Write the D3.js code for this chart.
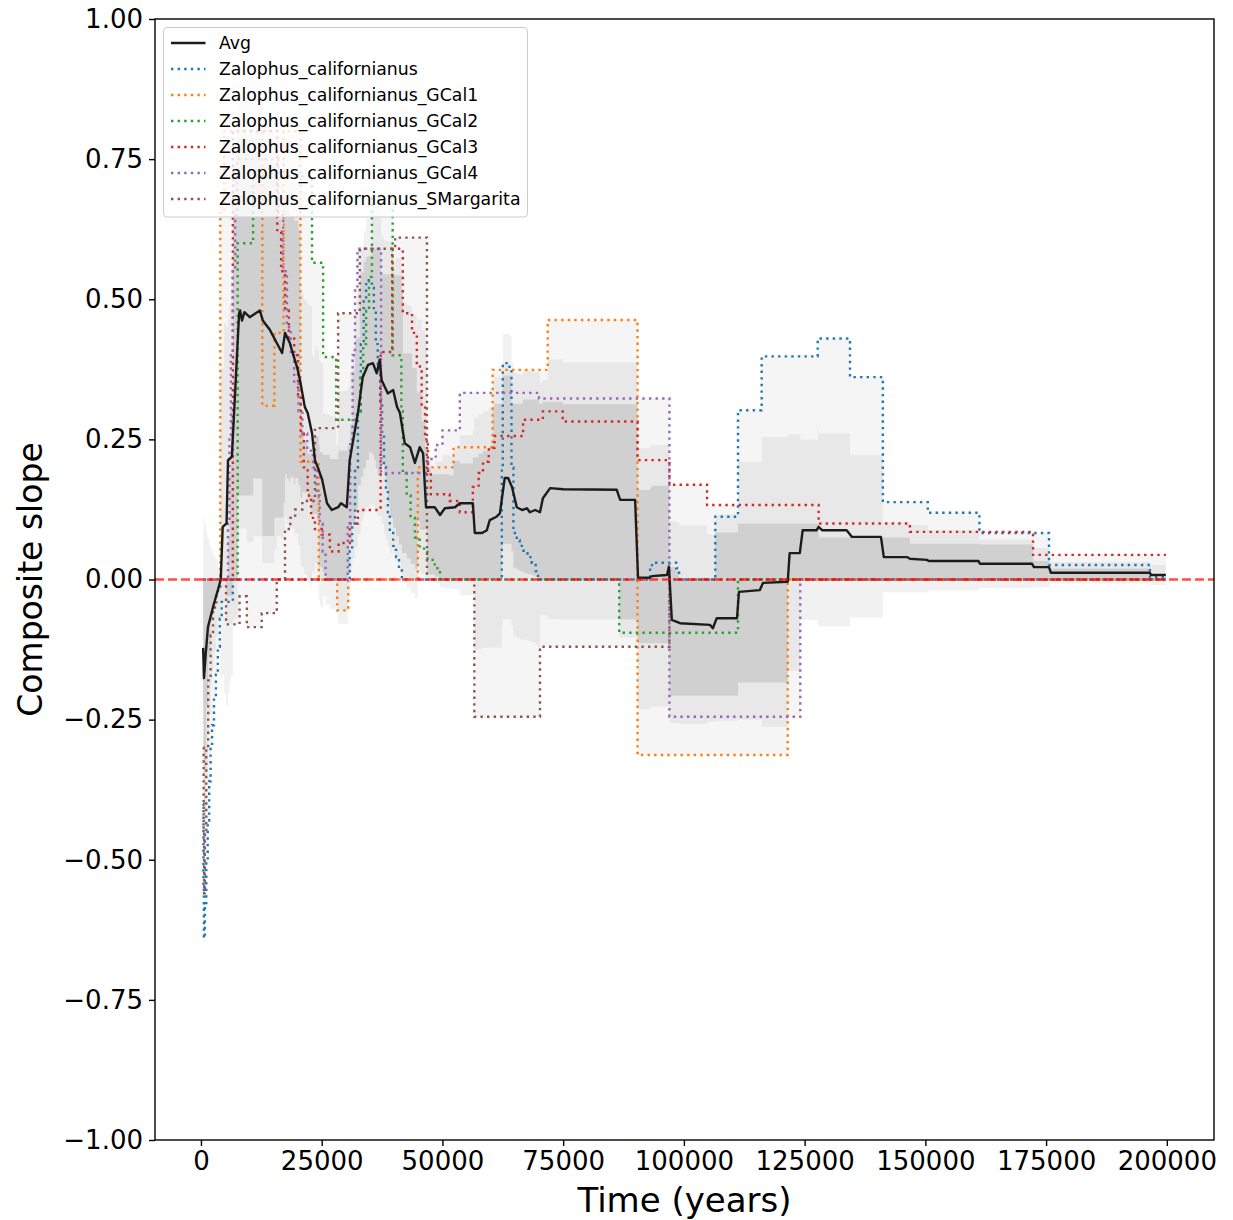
<!DOCTYPE html>
<html>
<head>
<meta charset="utf-8">
<script src="https://cdn.jsdelivr.net/npm/d3@7"></script>
<style>
  body { margin: 0; background: #fff; }
  svg { display: block; }
  text { font-family: "DejaVu Sans", sans-serif; fill: #000; }
</style>
</head>
<body>
<svg id="chart" width="1233" height="1220"></svg>
<script>
// ---- data: composite slope through time, one step series per population ----
const tStart = 450, tEnd = 199800;

const seriesNames = [
  "Zalophus_californianus",
  "Zalophus_californianus_GCal1",
  "Zalophus_californianus_GCal2",
  "Zalophus_californianus_GCal3",
  "Zalophus_californianus_GCal4",
  "Zalophus_californianus_SMargarita"
];
const seriesColors = ["#1f77b4", "#ff7f0e", "#2ca02c", "#d62728", "#9467bd", "#8c564b"];

// [time (years), slope], value holds until the next time
const californianus = [
  [450,-0.40],[520,-0.55],[600,-0.64],[800,-0.58],[1100,-0.50],[1400,-0.43],[1700,-0.36],[2000,-0.30],
  [2300,-0.26],[2700,-0.21],[3100,-0.17],[3500,-0.12],[3900,-0.07],[4300,-0.04],[6600,0],
  [30800,0.05],[31300,0.10],[31900,0.20],[32500,0.30],[33100,0.42],[33700,0.50],[34200,0.534],
  [35400,0.52],[35800,0.48],[36200,0.42],[36600,0.37],[37100,0.32],[37500,0.26],[37900,0.20],
  [38300,0.16],[38700,0.12],[39100,0.083],[39800,0.06],[40400,0.04],[41000,0.02],[41600,0],
  [62300,0.20],[62500,0.386],[63900,0.375],[64300,0.20],[64700,0.083],[65400,0.07],[66000,0.06],
  [66800,0.047],[67600,0.04],[68500,0.03],[69300,0.015],[69800,0],
  [93000,0.02],[93400,0.03],[98400,0.02],[99000,0],
  [106500,0.112],[111200,0.302],[116100,0.398],[127700,0.43],[134400,0.361],[141200,0.138],
  [150500,0.119],[161200,0.083],[175600,0.026],[196500,0.004]
];
const gcal1 = [
  [450,0],[4000,0.66],[4800,0.80],[12700,0.31],[15200,0.44],[17100,0.80],[20600,0.21],[24400,0],
  [28200,-0.055],[30500,0],[44900,0.20],[52300,0.236],[60400,0.374],[71800,0.463],[90400,-0.313],
  [121500,0]
];
const gcal2 = [
  [450,0],[7600,0.60],[10800,0.72],[23000,0.565],[25300,0.397],[28000,0.285],[32300,0.30],[33000,0.36],
  [33600,0.42],[34200,0.48],[34800,0.54],[35400,0.68],[39700,0.40],[41500,0.30],[41800,0.19],
  [42600,0.15],[43400,0.11],[44300,0.075],[45300,0.055],[46900,0.035],[48400,0.02],[49500,0],
  [86600,-0.095],[111200,0]
];
const gcal3 = [
  [450,0],[6600,0.80],[15800,0.62],[16600,0.55],[17400,0.48],[18200,0.43],[19300,0.40],[20100,0.33],
  [20700,0.26],[21300,0.20],[22100,0.15],[22800,0.11],[23600,0.09],[25000,0.08],[26700,0.05],
  [28500,0.065],[30800,0.10],[32500,0.124],[37200,0.406],[39600,0.59],[41800,0.475],[43700,0.44],
  [44700,0.38],[45700,0.31],[46400,0.25],[47000,0.19],[47600,0.152],[51500,0.14],[53600,0.12],
  [56300,0.165],[57500,0.19],[58400,0.21],[59600,0.235],[60800,0.256],[66700,0.285],[70800,0.30],
  [74900,0.282],[90400,0.213],[97000,0.169],[104800,0.133],[127900,0.10],[146800,0.085],[172300,0.044]
];
const gcal4 = [
  [450,0],[5600,0.10],[5900,0.25],[6200,0.40],[6600,0.55],[7100,0.65],[7500,0.75],[16000,0.65],
  [17000,0.55],[17800,0.45],[18600,0.40],[19300,0.35],[20200,0.30],[21000,0.26],[22000,0.23],
  [23200,0.20],[24000,0.15],[24600,0.10],[25200,0.05],[25800,0],[30400,0.10],[30900,0.25],
  [31400,0.40],[31900,0.52],[32400,0.59],[37300,0.19],[47000,0.215],[48600,0.24],[50000,0.266],
  [53600,0.333],[70000,0.323],[97000,-0.245],[124100,0]
];
const smargarita = [
  [450,-0.30],[550,-0.45],[650,-0.56],[800,-0.45],[1100,-0.30],[1500,-0.18],[2000,-0.10],[2500,-0.05],
  [3200,-0.02],[4000,0],[5200,-0.08],[8000,-0.03],[9500,-0.085],[12600,-0.06],[15700,0],[17400,0.09],
  [18500,0.11],[19500,0.125],[21000,0.14],[23600,0.27],[28400,0.475],[32900,0.59],[40200,0.61],
  [46800,0],[56600,-0.245],[70200,-0.12],[97000,0]
];

// average composite slope across the six series
const avgSlope = [
  [450,-0.122],[620,-0.176],[1000,-0.131],[1450,-0.085],[2500,-0.049],[3500,-0.019],[4100,0],[4500,0.094],
  [5300,0.10],[5600,0.213],[6400,0.219],[7900,0.475],[8100,0.48],[8500,0.462],[9000,0.477],[10100,0.468],
  [12200,0.48],[12800,0.462],[14300,0.445],[15700,0.422],[16800,0.404],[17400,0.44],[18400,0.422],
  [19000,0.404],[19900,0.379],[20500,0.356],[21500,0.308],[22100,0.297],[23000,0.261],[23600,0.213],
  [24200,0.20],[25100,0.178],[26100,0.136],[27100,0.124],[28400,0.129],[29000,0.136],[30200,0.129],
  [30800,0.213],[32500,0.297],[33500,0.361],[34600,0.383],[35600,0.386],[36400,0.368],[37000,0.392],
  [37400,0.356],[38700,0.332],[39800,0.338],[40600,0.308],[41200,0.297],[42200,0.243],[43300,0.236],
  [44300,0.208],[45300,0.236],[46000,0.225],[46600,0.129],[48400,0.129],[49500,0.115],[50500,0.127],
  [52600,0.129],[53600,0.136],[56300,0.136],[56700,0.083],[58200,0.083],[59200,0.088],[59800,0.106],
  [61200,0.112],[61900,0.118],[62900,0.181],[63600,0.181],[64400,0.165],[65400,0.129],[66500,0.124],
  [67500,0.127],[68100,0.120],[69200,0.124],[70200,0.120],[70800,0.145],[72300,0.163],[75000,0.161],
  [86100,0.160],[86800,0.142],[89900,0.142],[90500,0.003],[92900,0.003],[93400,0.006],[96500,0.008],
  [96900,0.023],[97500,-0.072],[99200,-0.078],[105400,-0.081],[106000,-0.087],[106800,-0.069],
  [111000,-0.069],[111400,-0.022],[115700,-0.019],[116400,-0.006],[121500,-0.004],[121900,0.047],
  [124000,0.047],[124600,0.088],[127500,0.088],[127900,0.094],[128600,0.088],[133700,0.088],
  [134800,0.076],[140800,0.076],[141400,0.040],[146200,0.040],[146800,0.037],[150300,0.035],
  [150700,0.033],[161000,0.033],[161300,0.028],[172100,0.028],[172500,0.022],[175600,0.022],
  [176000,0.012],[196500,0.012],[196700,0.008],[199800,0.008]
];

const yTicks = [-1, -0.75, -0.5, -0.25, 0, 0.25, 0.5, 0.75, 1];
const xTicks = [0, 25000, 50000, 75000, 100000, 125000, 150000, 175000, 200000];

// ---- layout ----
const plotL = 155, plotR = 1214, plotT = 19, plotB = 1140;
const svg = d3.select("#chart");
const span = tEnd - tStart;
const x = d3.scaleLinear().domain([tStart - 0.05 * span, tEnd + 0.05 * span]).range([plotL, plotR]);
const y = d3.scaleLinear().domain([-1, 1]).range([plotB, plotT]);

svg.append("defs").append("clipPath").attr("id", "plotClip")
  .append("rect").attr("x", plotL).attr("y", plotT)
  .attr("width", plotR - plotL).attr("height", plotB - plotT);
const plot = svg.append("g").attr("clip-path", "url(#plotClip)");

// ---- spread across populations: min/max, mean ± sd, inter-quartile ----
const allSeries = [californianus, gcal1, gcal2, gcal3, gcal4, smargarita];
const grid = Array.from(new Set(allSeries.flatMap(s => s.map(d => d[0])).concat([tEnd])))
  .sort((a, b) => a - b);
function valueAt(s, t) {
  let v = s[0][1];
  for (const [ti, vi] of s) { if (ti <= t) v = vi; else break; }
  return v;
}
const stats = grid.map(t => {
  const vals = allSeries.map(s => valueAt(s, t)).sort(d3.ascending);
  const m = d3.mean(vals), sd = d3.deviation(vals);
  return {
    t, min: vals[0], max: vals[vals.length - 1],
    sdLo: m - sd, sdHi: m + sd,
    q25: d3.quantile(vals, 0.25), q75: d3.quantile(vals, 0.75)
  };
});
const band = (lo, hi) => d3.area().curve(d3.curveStepAfter)
  .x(d => x(d.t)).y0(d => y(d[lo])).y1(d => y(d[hi]));
[["min", "max", 0.08], ["sdLo", "sdHi", 0.11], ["q25", "q75", 0.23]].forEach(([lo, hi, op]) => {
  plot.append("path").datum(stats).attr("d", band(lo, hi))
    .attr("fill", "#808080").attr("fill-opacity", op).attr("stroke", "none");
});

// ---- population series (dotted steps) ----
const stepLine = d3.line().curve(d3.curveStepAfter).x(d => x(d[0])).y(d => y(d[1]));
allSeries.forEach((s, i) => {
  const pts = s.concat([[tEnd, s[s.length - 1][1]]]);
  plot.append("path").attr("d", stepLine(pts))
    .attr("fill", "none").attr("stroke", seriesColors[i])
    .attr("stroke-width", 2.4).attr("stroke-dasharray", "2.4,4.2");
});

// ---- average ----
const avgLine = d3.line().x(d => x(d[0])).y(d => y(d[1]));
plot.append("path").attr("d", avgLine(avgSlope))
  .attr("fill", "none").attr("stroke", "#1c1c1c").attr("stroke-width", 2.4)
  .attr("stroke-linejoin", "round");

// ---- zero reference ----
plot.append("line")
  .attr("x1", plotL).attr("x2", plotR).attr("y1", y(0)).attr("y2", y(0))
  .attr("stroke", "#ff0000").attr("stroke-opacity", 0.7).attr("stroke-width", 2.4)
  .attr("stroke-dasharray", "9,4");

// ---- axes ----
const yAxis = svg.append("g").attr("transform", `translate(${plotL},0)`)
  .call(d3.axisLeft(y).tickValues(yTicks).tickFormat(d3.format(".2f")).tickSize(6).tickPadding(6));
const xAxis = svg.append("g").attr("transform", `translate(0,${plotB})`)
  .call(d3.axisBottom(x).tickValues(xTicks).tickFormat(d3.format("d")).tickSize(6).tickPadding(6));
[yAxis, xAxis].forEach(g => {
  g.select(".domain").remove();
  g.selectAll(".tick line").attr("stroke", "#000").attr("stroke-width", 1.4);
  g.selectAll(".tick text").attr("font-size", 26).attr("font-family", "DejaVu Sans").attr("fill", "#000");
});

svg.append("rect").attr("x", plotL).attr("y", plotT)
  .attr("width", plotR - plotL).attr("height", plotB - plotT)
  .attr("fill", "none").attr("stroke", "#000").attr("stroke-width", 1.4);

svg.append("text").attr("x", (plotL + plotR) / 2).attr("y", 1212)
  .attr("text-anchor", "middle").attr("font-size", 34).text("Time (years)");
svg.append("text").attr("transform", `translate(42,${(plotT + plotB) / 2}) rotate(-90)`)
  .attr("text-anchor", "middle").attr("font-size", 33).text("Composite slope");

// ---- legend ----
const legendItems = [{ name: "Avg", color: "#1c1c1c", dotted: false }]
  .concat(seriesNames.map((n, i) => ({ name: n, color: seriesColors[i], dotted: true })));
const lg = svg.append("g");
const lgBox = lg.append("rect").attr("x", 163.5).attr("y", 27.5).attr("rx", 3.5).attr("ry", 3.5)
  .attr("fill", "#fff").attr("fill-opacity", 0.8).attr("stroke", "#cccccc").attr("stroke-width", 1);
let maxW = 0;
legendItems.forEach((it, i) => {
  const cy = 43 + i * 26;
  lg.append("line").attr("x1", 171).attr("x2", 205.5).attr("y1", cy).attr("y2", cy)
    .attr("stroke", it.color).attr("stroke-width", 2.4)
    .attr("stroke-dasharray", it.dotted ? "2.4,4.2" : null);
  const tx = lg.append("text").attr("x", 219).attr("y", cy + 6).attr("font-size", 17.3).text(it.name);
  maxW = Math.max(maxW, tx.node().getComputedTextLength());
});
lgBox.attr("width", 219 + maxW + 7 - 163.5).attr("height", 217 - 27.5);
</script>
</body>
</html>
